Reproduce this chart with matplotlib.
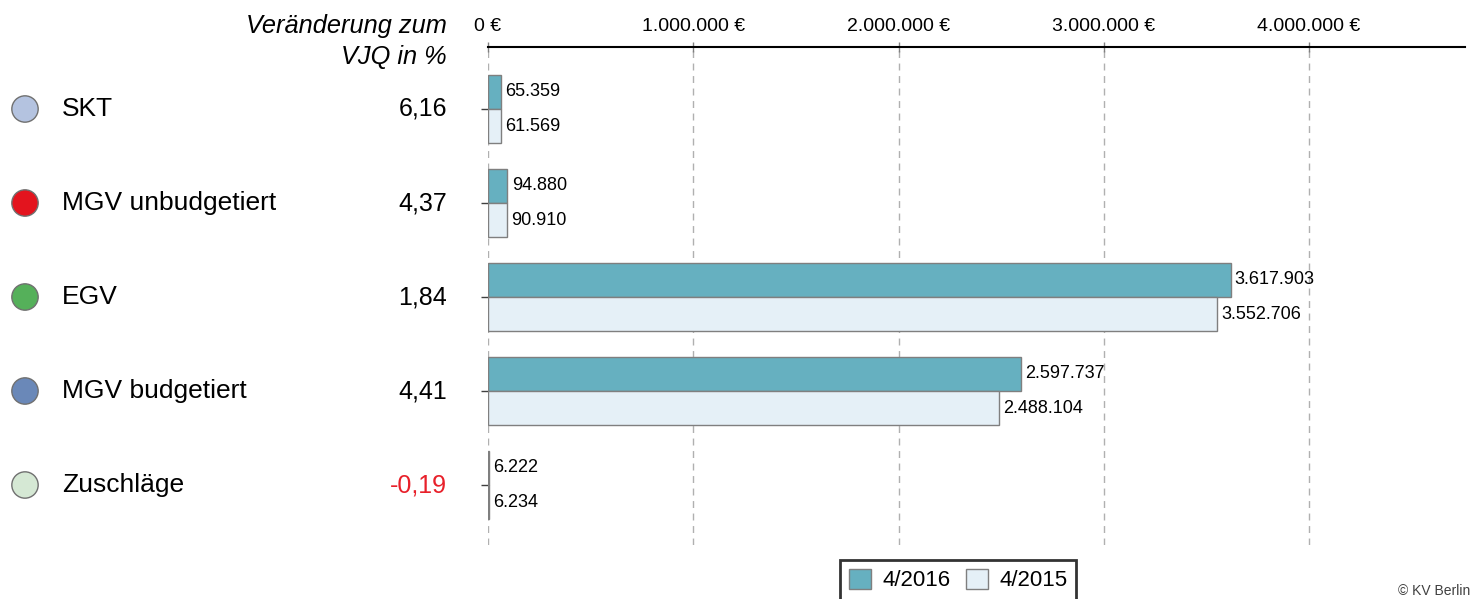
import matplotlib
matplotlib.use("Agg")
import matplotlib.pyplot as plt
from matplotlib.patches import Patch
import numpy as np

plt.rcParams['font.family'] = ['Liberation Sans', 'DejaVu Sans']

# data
categories = ["SKT", "MGV unbudgetiert", "EGV", "MGV budgetiert", "Zuschläge"]
dot_colors = ["#B4C3E0", "#E3141E", "#55B05A", "#6A88B8", "#D5E8D4"]
change_pct = [6.16, 4.37, 1.84, 4.41, -0.19]
values_2016 = [65359, 94880, 3617903, 2597737, 6222]
values_2015 = [61569, 90910, 3552706, 2488104, 6234]
series_labels = ["4/2016", "4/2015"]
x_ticks = [0, 1000000, 2000000, 3000000, 4000000]

c2016 = "#66B0C0"
c2015 = "#E5F0F7"
edge = "#7F7F7F"


def fmt(v):
    return f"{v:,}".replace(",", ".")


fig = plt.figure(figsize=(14.75, 5.99), dpi=100)
ax = fig.add_axes([488 / 1475, 1 - 545 / 599, (1465 - 488) / 1475, (545 - 47) / 599])

y = np.arange(len(categories))
h = 0.365
ax.barh(y - h / 2, values_2016, height=h, color=c2016, edgecolor=edge, linewidth=1)
ax.barh(y + h / 2, values_2015, height=h, color=c2015, edgecolor=edge, linewidth=1)

# value labels right of each bar
for i in range(len(categories)):
    ax.annotate(fmt(values_2016[i]), (values_2016[i], y[i] - h / 2), xytext=(3, 0),
                textcoords="offset points", va="center", ha="left", fontsize=13)
    ax.annotate(fmt(values_2015[i]), (values_2015[i], y[i] + h / 2), xytext=(3, 0),
                textcoords="offset points", va="center", ha="left", fontsize=13)

ax.set_xlim(0, 4760000)
ax.set_ylim(4.64, -0.66)
ax.xaxis.tick_top()
ax.set_xticks(x_ticks)
ax.set_xticklabels([fmt(t) + " €" for t in x_ticks], fontsize=14)
ax.tick_params(axis="x", direction="inout", length=7, width=1, color="#808080", pad=5)
ax.set_yticks(y)
ax.set_yticklabels([])
ax.tick_params(axis="y", direction="out", length=5, width=1, color="#404040")
ax.grid(axis="x", linestyle=(0, (5, 4)), color="#B0B0B0", linewidth=1)
ax.set_axisbelow(True)
for s in ["left", "right", "bottom"]:
    ax.spines[s].set_visible(False)
ax.spines["top"].set_linewidth(1.5)
ax.spines["top"].set_color("black")

# left side table: dots, names, change values
dot_y = [1 - (109 + 94 * i) / 599 for i in range(len(categories))]
for i, name in enumerate(categories):
    fig.text(62 / 1475, dot_y[i], name, fontsize=19, va="center", ha="left")
    col = "#E8202A" if change_pct[i] < 0 else "black"
    fig.text(447 / 1475, dot_y[i], f"{change_pct[i]:.2f}".replace(".", ","), fontsize=18,
             va="center", ha="right", color=col)

dot_ax = fig.add_axes([0, 0, 1, 1], facecolor="none")
dot_ax.set_xlim(0, 1)
dot_ax.set_ylim(0, 1)
dot_ax.axis("off")
dot_ax.scatter([25 / 1475] * len(categories), dot_y, s=360, c=dot_colors,
               edgecolors="#707070", linewidths=1, zorder=3)

fig.text(447 / 1475, 1 - 26 / 599, "Veränderung zum", fontsize=18.3, style="italic",
         ha="right", va="center")
fig.text(447 / 1475, 1 - 57 / 599, "VJQ in %", fontsize=18.3, style="italic",
         ha="right", va="center")

handles = [Patch(facecolor=c2016, edgecolor=edge), Patch(facecolor=c2015, edgecolor=edge)]
leg = fig.legend(handles, series_labels, loc="upper left",
                 bbox_to_anchor=(840 / 1475, 1 - 560 / 599), ncol=2, fontsize=16,
                 frameon=True, fancybox=False, handlelength=1.0, handleheight=1.0,
                 handletextpad=0.5, columnspacing=0.7, borderpad=0.4, borderaxespad=0)
leg.get_frame().set_edgecolor("black")
leg.get_frame().set_linewidth(2)

fig.text(1398 / 1475, 0.002, "© KV Berlin", fontsize=10, ha="left", va="bottom",
         color="#404040")

fig.savefig("out.png", dpi=100)
